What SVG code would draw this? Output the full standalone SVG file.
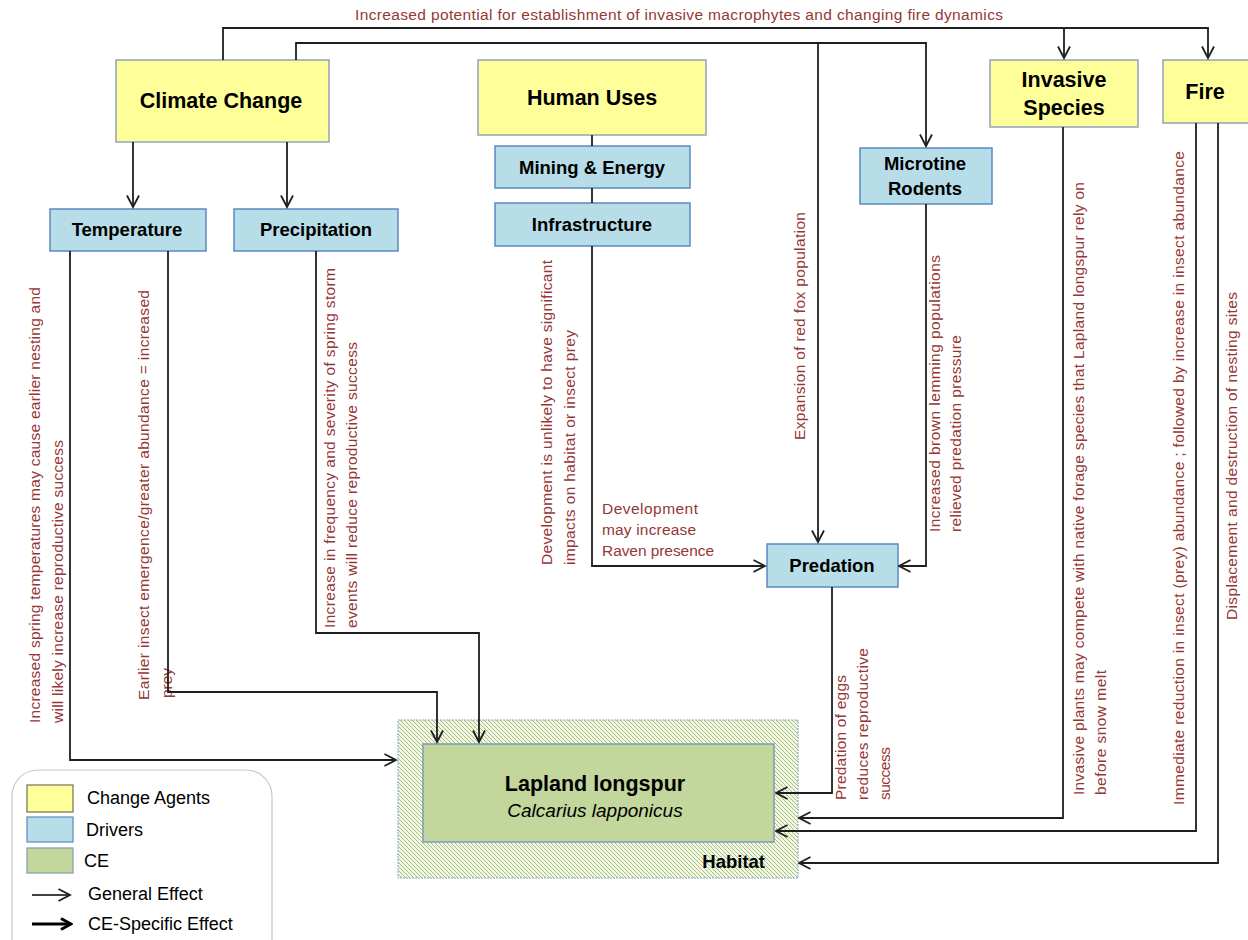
<svg xmlns="http://www.w3.org/2000/svg" width="1248" height="940" viewBox="0 0 1248 940">
<style>
.agent{fill:#FFFF99;stroke:#8EA3BA;stroke-width:1.5}
.driver{fill:#B7DEE8;stroke:#5B88C0;stroke-width:1.5}
.ce{fill:#C3D69B;stroke:#7F9BB8;stroke-width:1.5}
.t-agent{font-family:"Liberation Sans",Arial,sans-serif;font-weight:bold;font-size:21.5px;fill:#000;text-anchor:middle}
.t-driver{font-family:"Liberation Sans",Arial,sans-serif;font-weight:bold;font-size:18.5px;fill:#000;text-anchor:middle}
.lbl{font-family:"Liberation Sans",Arial,sans-serif;font-size:15.5px;fill:#953735}
.leg{font-family:"Liberation Sans",Arial,sans-serif;font-size:18px;fill:#000}
.conn{fill:none;stroke:#1f1f1f;stroke-width:1.8}
</style>
<defs>
<marker id="ah" viewBox="0 0 14 14" refX="12.5" refY="7" markerWidth="14" markerHeight="14" markerUnits="userSpaceOnUse" orient="auto">
<path d="M1,1 L12.5,7 L1,13" fill="none" stroke="#1f1f1f" stroke-width="1.8"/>
</marker>
<marker id="ahb" viewBox="0 0 14 14" refX="12" refY="7" markerWidth="14" markerHeight="14" markerUnits="userSpaceOnUse" orient="auto">
<path d="M2,1.5 L12,7 L2,12.5" fill="none" stroke="#000" stroke-width="3"/>
</marker>
<pattern id="hatch" width="4" height="4" patternUnits="userSpaceOnUse">
<rect width="4" height="4" fill="#f2f7e8"/>
<path d="M0,0 L4,4 M-1,3 L1,5 M3,-1 L5,1" stroke="#a6c075" stroke-width="1"/>
</pattern>
</defs>

<rect width="1248" height="940" fill="#ffffff"/>

<g id="labels">
<text class="lbl" x="355" y="20" textLength="648">Increased potential for establishment of invasive macrophytes and changing fire dynamics</text>
<text class="lbl" transform="translate(40,723) rotate(-90)" textLength="436">Increased spring temperatures may cause earlier nesting and</text>
<text class="lbl" transform="translate(63,723) rotate(-90)" textLength="283">will likely increase reproductive success</text>
<text class="lbl" transform="translate(149,700) rotate(-90)" textLength="410">Earlier insect emergence/greater abundance = increased</text>
<text class="lbl" transform="translate(172,698) rotate(-90)" textLength="30">prey</text>
<text class="lbl" transform="translate(335,628) rotate(-90)" textLength="360">Increase in frequency and severity of spring storm</text>
<text class="lbl" transform="translate(357,628) rotate(-90)" textLength="286">events will reduce reproductive success</text>
<text class="lbl" transform="translate(552,565) rotate(-90)" textLength="305">Development is unlikely to have significant</text>
<text class="lbl" transform="translate(575,565) rotate(-90)" textLength="235">impacts on habitat or insect prey</text>
<text class="lbl" x="602" y="514" textLength="96">Development</text>
<text class="lbl" x="602" y="535" textLength="94">may increase</text>
<text class="lbl" x="602" y="556" textLength="112">Raven presence</text>
<text class="lbl" transform="translate(805,440) rotate(-90)" textLength="228">Expansion of red fox population</text>
<text class="lbl" transform="translate(940,532) rotate(-90)" textLength="277">Increased brown lemming populations</text>
<text class="lbl" transform="translate(961,532) rotate(-90)" textLength="197">relieved predation pressure</text>
<text class="lbl" transform="translate(846,800) rotate(-90)" textLength="125">Predation of eggs</text>
<text class="lbl" transform="translate(868,800) rotate(-90)" textLength="152">reduces reproductive</text>
<text class="lbl" transform="translate(890,800) rotate(-90)" textLength="53">success</text>
<text class="lbl" transform="translate(1084,795) rotate(-90)" textLength="613">Invasive plants may compete with native forage species that Lapland longspur rely on</text>
<text class="lbl" transform="translate(1106,795) rotate(-90)" textLength="125">before snow melt</text>
<text class="lbl" transform="translate(1184,805) rotate(-90)" textLength="654">Immediate reduction in insect (prey) abundance ; followed by increase in insect abundance</text>
<text class="lbl" transform="translate(1237,620) rotate(-90)" textLength="328">Displacement and destruction of nesting sites</text>
</g>

<g id="climate-change">
<rect class="agent" x="116" y="60" width="213" height="82"/>
<text class="t-agent" x="221" y="108">Climate Change</text>
</g>
<g id="human-uses">
<rect class="agent" x="478" y="60" width="228" height="75"/>
<text class="t-agent" x="592" y="105">Human Uses</text>
</g>
<g id="invasive-species">
<rect class="agent" x="990" y="60" width="148" height="67"/>
<text class="t-agent" x="1064" y="87">Invasive</text>
<text class="t-agent" x="1064" y="115">Species</text>
</g>
<g id="fire">
<rect class="agent" x="1163" y="60" width="95" height="63"/>
<text class="t-agent" x="1205" y="99">Fire</text>
</g>
<g id="mining-energy">
<rect class="driver" x="495" y="146" width="195" height="42"/>
<text class="t-driver" x="592" y="174">Mining &amp; Energy</text>
</g>
<g id="infrastructure">
<rect class="driver" x="495" y="203" width="195" height="43"/>
<text class="t-driver" x="592" y="231">Infrastructure</text>
</g>
<g id="temperature">
<rect class="driver" x="50" y="209" width="156" height="42"/>
<text class="t-driver" x="127" y="236">Temperature</text>
</g>
<g id="precipitation">
<rect class="driver" x="234" y="209" width="164" height="42"/>
<text class="t-driver" x="316" y="236">Precipitation</text>
</g>
<g id="microtine-rodents">
<rect class="driver" x="860" y="148" width="132" height="56"/>
<text class="t-driver" x="925" y="170">Microtine</text>
<text class="t-driver" x="925" y="195">Rodents</text>
</g>
<g id="predation">
<rect class="driver" x="767" y="544" width="131" height="43"/>
<text class="t-driver" x="832" y="572">Predation</text>
</g>
<g id="habitat">
<rect x="398" y="720" width="400" height="158" fill="url(#hatch)" stroke="#8AA6C8" stroke-width="1" stroke-dasharray="2,1"/>
<text class="t-driver" x="765" y="868" style="text-anchor:end">Habitat</text>
</g>
<g id="lapland-longspur">
<rect class="ce" x="423" y="744" width="351" height="98"/>
<text class="t-agent" x="595" y="791">Lapland longspur</text>
<text x="595" y="817" style="font-family:'Liberation Sans',Arial,sans-serif;font-style:italic;font-size:19px;text-anchor:middle;fill:#000">Calcarius lapponicus</text>
</g>

<g id="connectors">
<path class="conn" d="M223,60 V28 H1208 V58" marker-end="url(#ah)"/>
<path class="conn" d="M1064,29 V58" marker-end="url(#ah)"/>
<path class="conn" d="M296,60 V43 H926 V146" marker-end="url(#ah)"/>
<path class="conn" d="M818,43 V542" marker-end="url(#ah)"/>
<path class="conn" d="M133,142 V207" marker-end="url(#ah)"/>
<path class="conn" d="M287,142 V207" marker-end="url(#ah)"/>
<path class="conn" d="M592,135 V146"/>
<path class="conn" d="M592,188 V203"/>
<path class="conn" d="M70,251 V760 H396" marker-end="url(#ah)"/>
<path class="conn" d="M168,251 V692 H437 V742" marker-end="url(#ah)"/>
<path class="conn" d="M316,251 V633 H479 V742" marker-end="url(#ah)"/>
<path class="conn" d="M592,246 V566 H765" marker-end="url(#ah)"/>
<path class="conn" d="M926,204 V566 H899" marker-end="url(#ah)"/>
<path class="conn" d="M832,587 V793 H776" marker-end="url(#ah)"/>
<path class="conn" d="M1063,127 V818 H799" marker-end="url(#ah)"/>
<path class="conn" d="M1196,123 V831 H776" marker-end="url(#ah)"/>
<path class="conn" d="M1218,123 V863 H799" marker-end="url(#ah)"/>
</g>

<g id="legend">
<rect x="12" y="770" width="260" height="200" rx="26" ry="26" fill="#ffffff" stroke="#c8c8c8" stroke-width="1.2"/>
<rect x="27" y="785" width="46" height="27" fill="#FFFF99" stroke="#6f6f55" stroke-width="1.2"/>
<rect x="27" y="817" width="46" height="25" fill="#B7DEE8" stroke="#5B88C0" stroke-width="1.2"/>
<rect x="27" y="848" width="46" height="25" fill="#C3D69B" stroke="#7F9BB8" stroke-width="1.2"/>
<text class="leg" x="87" y="804">Change Agents</text>
<text class="leg" x="86" y="836">Drivers</text>
<text class="leg" x="84" y="867">CE</text>
<path d="M32,895 H70" fill="none" stroke="#000" stroke-width="1.3" marker-end="url(#ah)"/>
<text class="leg" x="88" y="900">General Effect</text>
<path d="M32,924 H71" fill="none" stroke="#000" stroke-width="3" marker-end="url(#ahb)"/>
<text class="leg" x="88" y="930">CE-Specific Effect</text>
</g>
</svg>
